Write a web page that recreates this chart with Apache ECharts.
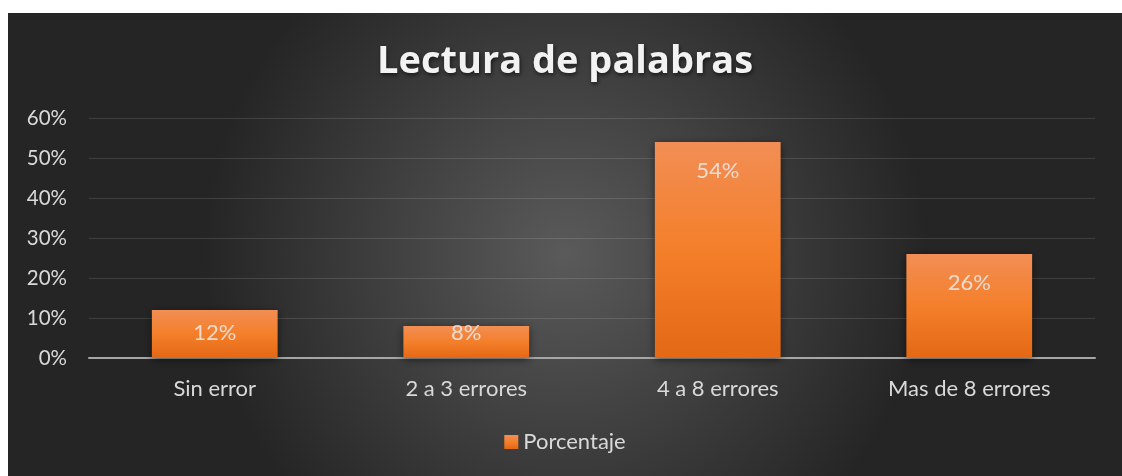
<!DOCTYPE html>
<html>
<head>
<meta charset="utf-8">
<script src="https://cdn.jsdelivr.net/npm/echarts@6/dist/echarts.min.js"></script>
<style>
html,body{margin:0;padding:0;background:#fff;width:1122px;height:476px;overflow:hidden;}
#chart{position:absolute;left:8px;top:13px;width:1114px;height:463px;}
</style>
</head>
<body>
<div id="chart"></div>
<script>
const titleText = 'Lectura de palabras';
const categories = ['Sin error', '2 a 3 errores', '4 a 8 errores', 'Mas de 8 errores'];
const seriesName = 'Porcentaje';
const values = [12, 8, 54, 26];
const yTicks = [0, 10, 20, 30, 40, 50, 60];

const FONT = 'Lato, "Open Sans", sans-serif';
const chart = echarts.init(document.getElementById('chart'), null, {renderer: 'canvas'});

const barData = values.map(v => (v >= 20
  ? {value: v}
  : {value: v, label: {position: 'insideBottom', distance: 14}}));

chart.setOption({
  backgroundColor: {
    type: 'radial', x: 0.5, y: 0.52, r: 0.78,
    colorStops: [{offset: 0, color: '#5a5a5a'}, {offset: 1, color: '#252525'}]
  },
  animation: false,
  title: {
    text: titleText, left: 'center', top: 25,
    textStyle: {
      fontFamily: '"Open Sans", sans-serif', fontWeight: 'bold', fontSize: 38, color: '#f2f2f2',
      textShadowColor: 'rgba(0,0,0,0.6)', textShadowBlur: 4, textShadowOffsetX: 1, textShadowOffsetY: 2
    }
  },
  legend: {
    bottom: 18, left: 'center', icon: 'rect', itemWidth: 14, itemHeight: 14, itemGap: 6,
    textStyle: {color: '#d9d9d9', fontSize: 22, fontFamily: FONT},
    data: [seriesName]
  },
  grid: {left: 81, right: 27, top: 105, height: 240},
  xAxis: {
    type: 'category', data: categories,
    axisLine: {lineStyle: {color: '#a6a6a6', width: 2}},
    axisTick: {show: false},
    axisLabel: {color: '#d9d9d9', fontSize: 22, fontFamily: FONT, margin: 20}
  },
  yAxis: {
    type: 'value', min: yTicks[0], max: yTicks[yTicks.length - 1], interval: 10,
    axisLine: {show: false}, axisTick: {show: false},
    splitLine: {lineStyle: {color: 'rgba(255,255,255,0.12)', width: 1}},
    axisLabel: {color: '#d9d9d9', fontSize: 20.5, fontFamily: FONT, margin: 22, formatter: '{value}%'}
  },
  series: [{
    name: seriesName, type: 'bar', data: barData, barWidth: '50%',
    itemStyle: {
      color: {
        type: 'linear', x: 0, y: 0, x2: 0, y2: 1,
        colorStops: [{offset: 0, color: '#f28e55'}, {offset: 0.5, color: '#f47f2a'}, {offset: 1, color: '#e46815'}]
      },
      shadowColor: 'rgba(0,0,0,0.5)', shadowBlur: 8, shadowOffsetX: 0, shadowOffsetY: 2
    },
    label: {
      show: true, position: 'insideTop', distance: 18, formatter: '{c}%',
      color: 'rgba(235,235,235,0.85)', fontSize: 22, fontFamily: FONT
    }
  }]
});
</script>
</body>
</html>
